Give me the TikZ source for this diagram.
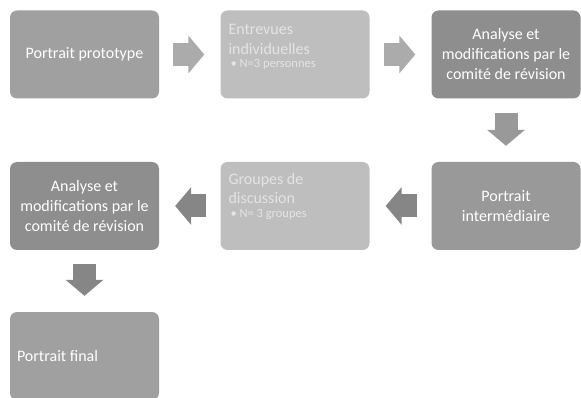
\documentclass[tikz,border=0pt]{standalone}
\usepackage{fontspec}
\setmainfont{Carlito}
\usetikzlibrary{arrows.meta}

\definecolor{boxmid}{HTML}{A0A0A0}
\definecolor{boxlight}{HTML}{BEBEBE}
\definecolor{boxdark}{HTML}{8E8E8E}
\definecolor{boxgrey}{HTML}{999999}
\definecolor{arrowlight}{HTML}{ABABAB}
\definecolor{arrowdark}{HTML}{868686}
\definecolor{notetext}{HTML}{E4E4E4}

\tikzset{
  box/.style={rounded corners=7pt, minimum width=149pt, minimum height=88pt,
    inner sep=0pt, text=white, align=center, font=\fontsize{16}{20}\selectfont},
  note/.style={anchor=north west, inner sep=0pt, align=left, text=notetext,
    font=\fontsize{16}{19.5}\selectfont},
  blockarrow/.style={line width=23pt, -{Triangle[length=16pt,width=37pt]},
    shorten <=14pt, shorten >=16pt},
}

\begin{document}
\begin{tikzpicture}[x=1pt,y=-1pt]
    \useasboundingbox (0,0) rectangle (581,398);
    % first row
    \node[box, fill=boxmid] (proto) at (84.5,54.5) {Portrait prototype};
    \node[box, fill=boxlight] (entrevues) at (295,54.5) {};
    \node[box, fill=boxdark] (analyse1) at (506,54.5) {Analyse et\\modifications par le\\comité de révision};
    \node[note] (entnote) at ([xshift=8pt,yshift=-14pt]entrevues.north west)
        {Entrevues\\individuelles\\[-6pt]{\fontsize{12.5}{14}\selectfont\hspace{2pt}• N=3 personnes}};
    % second row
    \node[box, fill=boxdark] (analyse2) at (84.5,206) {Analyse et\\modifications par le\\comité de révision};
    \node[box, fill=boxlight] (groupes) at (295,206) {};
    \node[box, fill=boxgrey] (inter) at (506,206) {Portrait\\intermédiaire};
    \node[note] (grpnote) at ([xshift=8pt,yshift=-11pt]groupes.north west)
        {Groupes de\\discussion\\[-6pt]{\fontsize{12.5}{14}\selectfont\hspace{2pt}• N= 3 groupes}};
    % last box
    \node[box, fill=boxmid] (final) at (84.5,356) {};
    \node[anchor=west, inner sep=0pt, text=white, font=\fontsize{16}{20}\selectfont] (finaltext) at ([xshift=7pt]final.west) {Portrait final};

    \draw[blockarrow, arrowlight] (proto) -- (entrevues);
    \draw[blockarrow, arrowlight] (entrevues) -- (analyse1);
    \draw[blockarrow, boxgrey] (analyse1) -- (inter);
    \draw[blockarrow, arrowdark] (inter) -- (groupes);
    \draw[blockarrow, arrowdark] (groupes) -- (analyse2);
    \draw[blockarrow, arrowdark] (analyse2) -- (final);
\end{tikzpicture}
\end{document}
